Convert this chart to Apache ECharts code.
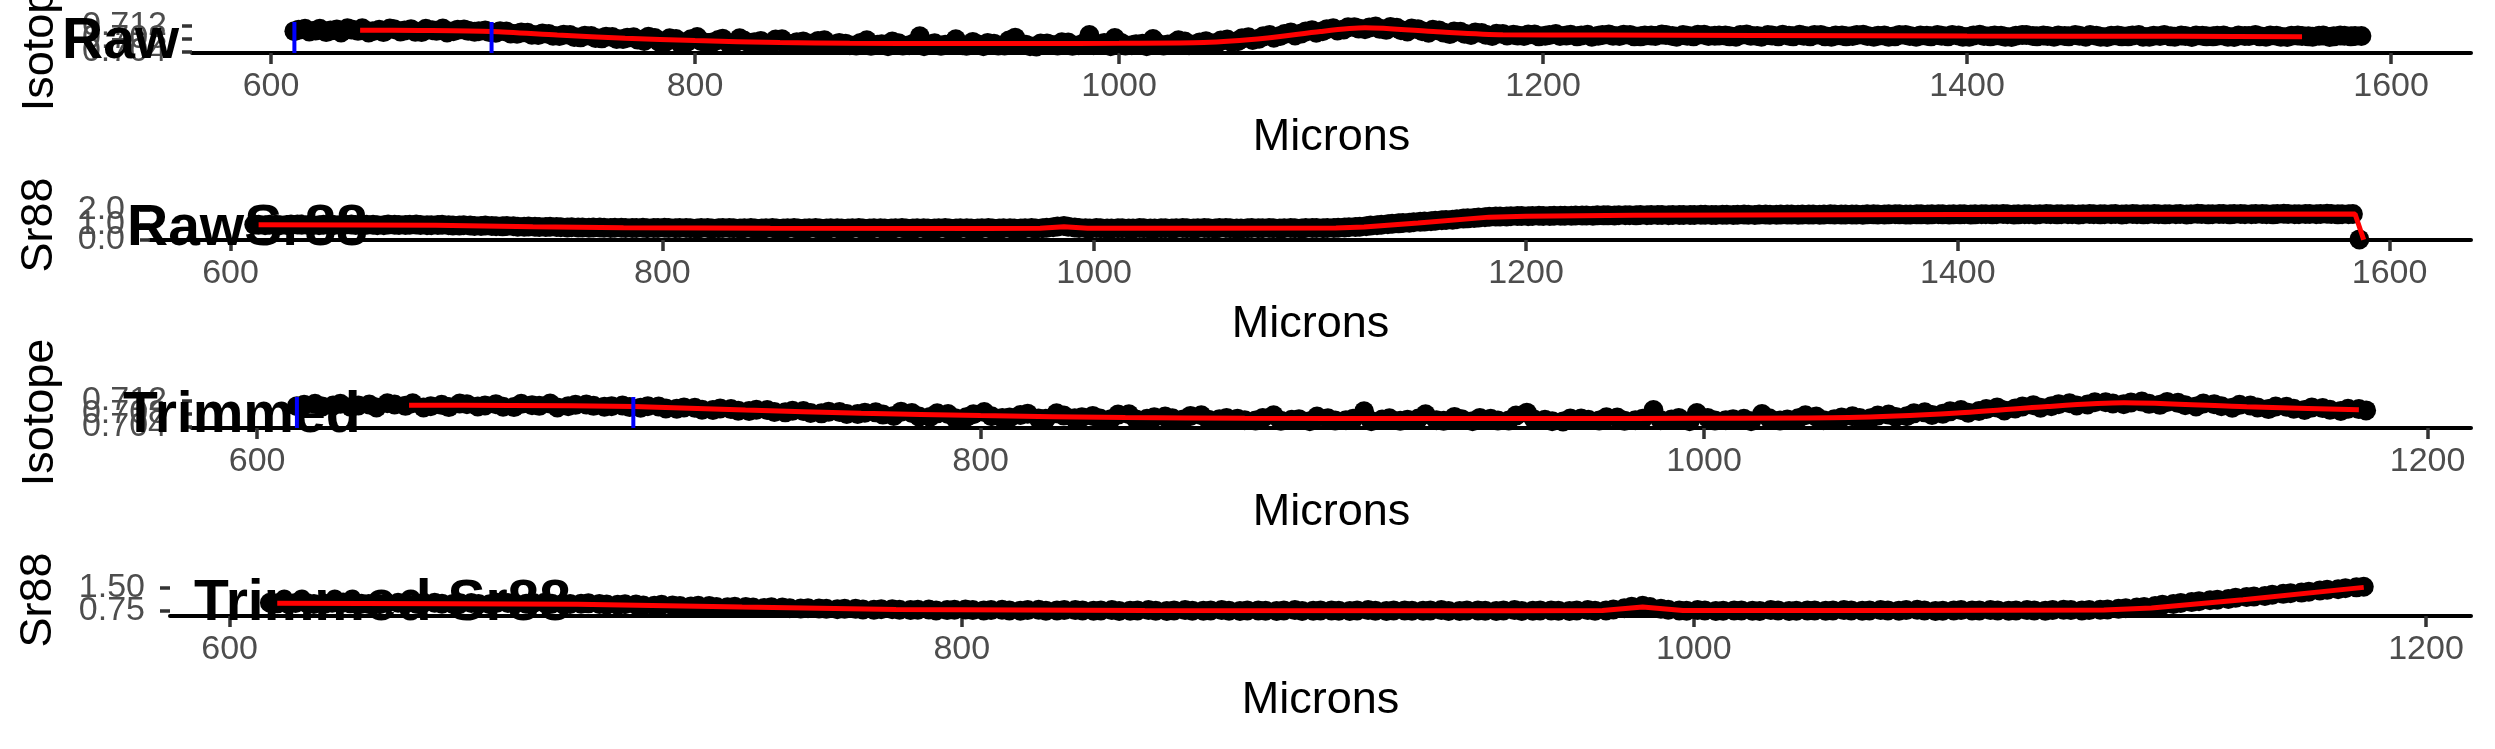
<!DOCTYPE html>
<html><head><meta charset="utf-8">
<script src="https://cdn.jsdelivr.net/npm/echarts@6/dist/echarts.min.js"></script>
<style>html,body{margin:0;padding:0;background:#fff}#c{width:2495px;height:749px}</style>
</head><body><div id="c"></div>
<script>
// ---------- data (two interleaved sample sets) ----------
const microns = [
611,616,621,626,631,636,641,646,651,656,661,666,671,676,681,686,691,696,701,706,
711,716,721,726,731,736,741,746,751,756,761,766,771,776,781,786,791,796,801,806,
811,816,821,826,831,836,841,846,851,856,861,866,871,876,881,886,891,896,901,906,
911,916,921,926,931,936,941,946,951,956,961,966,971,976,981,986,991,996,1001,1006,
1011,1016,1021,1026,1031,1036,1041,1046,1051,1056,1061,1066,1071,1076,1081,1086,1091,1096,1101,1106,
1111,1116,1121,1126,1131,1136,1141,1146,1151,1156,1161,1166,1171,1176,1181,1186,1191,1196,1201,1206,
1211,1216,1221,1226,1231,1236,1241,1246,1251,1256,1261,1266,1271,1276,1281,1286,1291,1296,1301,1306,
1311,1316,1321,1326,1331,1336,1341,1346,1351,1356,1361,1366,1371,1376,1381,1386,1391,1396,1401,1406,
1411,1416,1421,1426,1431,1436,1441,1446,1451,1456,1461,1466,1471,1476,1481,1486,1491,1496,1501,1506,
1511,1516,1521,1526,1531,1536,1541,1546,1551,1556,1561,1566,1571,1576,1581,1586];

const isotopeRaw = [
0.7104,0.7111,0.7106,0.7101,0.7109,0.7113,0.7105,0.7100,0.7108,0.7112,0.7103,0.7110,0.7101,0.7107,0.7112,0.7104,0.7109,0.7102,
0.7106,0.7099,0.7103,0.7096,0.7099,0.7092,0.7095,0.7089,0.7092,0.7085,0.7089,0.7082,0.7086,0.7080,
0.7085,0.7074,0.7083,0.7071,0.7080,0.7070,0.7086,0.7068,0.7077,0.7066,0.7082,0.7067,0.7074,0.7064,0.7079,0.7065,0.7072,0.7063,0.7076,0.7064,
0.7065,0.7060,0.7076,0.7062,0.7058,0.7067,0.7061,0.7088,0.7063,0.7059,0.7066,0.7061,0.7071,0.7058,0.7065,0.7060,0.7084,0.7062,0.7057,0.7066,
0.7060,0.7069,0.7061,0.7092,0.7063,0.7058,0.7068,0.7061,0.7065,0.7080,0.7060,0.7067,0.7072,0.7064,
0.7073,0.7067,0.7078,0.7073,0.7085,0.7081,0.7092,0.7089,0.7100,0.7097,0.7107,0.7104,0.7113,0.7109,0.7116,
0.7110,0.7118,0.7108,0.7114,0.7103,0.7110,0.7099,0.7106,0.7095,0.7102,0.7092,0.7098,0.7089,0.7095,
0.7093,0.7089,0.7094,0.7090,0.7095,0.7091,0.7088,0.7093,0.7090,0.7094,
0.7089,0.7092,0.7088,0.7091,0.7094,0.7089,0.7092,0.7088,0.7093,0.7090,
0.7091,0.7087,0.7094,0.7089,0.7092,0.7088,0.7090,0.7093,0.7088,0.7092,
0.7087,0.7091,0.7089,0.7093,0.7087,0.7091,0.7088,0.7092,0.7087,0.7090,
0.7092,0.7088,0.7091,0.7087,0.7093,0.7088,0.7090,0.7086,0.7092,0.7089,
0.7091,0.7087,0.7089,0.7092,0.7087,0.7090,0.7086,0.7091,0.7088,0.7092,
0.7087,0.7089,0.7088,0.7091,0.7086,0.7090,0.7088,0.7091,0.7086,0.7089,
0.7092,0.7087,0.7090,0.7086,0.7091,0.7088,0.7090,0.7086,0.7091,0.7088,
0.7089];

const sr88Raw = [
1.02,0.98,1.01,0.99,1.03,0.99,0.97,1.02,0.99,1.02,0.98,1.01,0.97,1.01,0.99,1.02,0.98,0.99,
0.98,0.95,0.96,0.92,0.93,0.90,0.91,0.87,0.88,0.85,0.86,0.83,0.83,0.81,
0.82,0.79,0.81,0.78,0.80,0.78,0.80,0.77,0.79,0.76,0.79,0.77,0.78,0.76,0.78,0.76,0.78,0.75,0.78,0.76,
0.78,0.75,0.77,0.75,0.78,0.76,0.77,0.75,0.78,0.75,0.77,0.76,0.78,0.75,0.77,0.75,0.78,0.76,0.77,0.75,
0.78,0.77,0.84,0.92,0.82,0.77,0.78,0.75,0.77,0.76,0.78,0.75,0.77,0.76,
0.78,0.76,0.78,0.76,0.79,0.75,0.77,0.77,0.78,0.76,0.78,0.76,0.79,0.77,0.79,
0.82,0.86,0.91,0.98,1.04,1.10,1.14,1.21,1.24,1.31,1.35,1.42,1.46,1.52,
1.56,1.57,1.59,1.58,1.61,1.60,1.62,1.61,1.63,1.62,
1.64,1.63,1.65,1.64,1.65,1.67,1.65,1.67,1.66,1.68,
1.66,1.68,1.67,1.69,1.67,1.69,1.68,1.70,1.68,1.69,
1.68,1.71,1.69,1.70,1.68,1.71,1.70,1.72,1.69,1.71,
1.70,1.72,1.70,1.71,1.69,1.72,1.71,1.73,1.70,1.72,
1.70,1.73,1.71,1.72,1.70,1.73,1.71,1.72,1.70,1.73,
1.71,1.73,1.71,1.72,1.70,1.74,1.71,1.73,1.71,1.73,
1.72,1.73,1.71,1.74,1.72,1.73,1.72,1.74,1.71,1.72,
0.02];

const micronsB = [
613,618,623,628,633,638,643,648,653,658,663,668,673,678,683,688,693,698,703,708,
713,718,723,728,733,738,743,748,753,758,763,768,773,778,783,788,793,798,803,808,
813,818,823,828,833,838,843,848,853,858,863,868,873,878,883,888,893,898,903,908,
913,918,923,928,933,938,943,948,953,958,963,968,973,978,983,988,993,998,1003,1008,
1013,1018,1023,1028,1033,1038,1043,1048,1053,1058,1063,1068,1073,1078,1083,1088,1093,1098,1103,1108,
1113,1118,1123,1128,1133,1138,1143,1148,1153,1158,1163,1168,1173,1178,1183,1188,1193,1198,1203,1208,
1213,1218,1223,1228,1233,1238,1243,1248,1253,1258,1263,1268,1273,1278,1283,1288,1293,1298,1303,1308,
1313,1318,1323,1328,1333,1338,1343,1348,1353,1358,1363,1368,1373,1378,1383,1388,1393,1398,1403,1408,
1413,1418,1423,1428,1433,1438,1443,1448,1453,1458,1463,1468,1473,1478,1483,1488,1493,1498,1503,1508,
1513,1518,1523,1528,1533,1538,1543,1548,1553,1558,1563,1568,1573,1578,1583];

const isotopeB = [
0.7108,0.7103,0.7111,0.7106,0.7100,0.7109,0.7113,0.7104,0.7101,0.7110,0.7106,0.7102,0.7111,0.7105,0.7100,0.7108,0.7105,0.7104,
0.7101,0.7104,0.7097,0.7100,0.7093,0.7097,0.7090,0.7093,0.7086,0.7090,0.7083,0.7087,0.7080,0.7084,
0.7078,0.7087,0.7072,0.7082,0.7067,0.7079,0.7073,0.7069,0.7081,0.7065,0.7075,0.7070,0.7066,0.7078,0.7063,0.7070,0.7067,0.7074,0.7062,0.7068,
0.7061,0.7068,0.7059,0.7064,0.7072,0.7060,0.7065,0.7058,0.7067,0.7062,0.7079,0.7059,0.7064,0.7068,0.7060,0.7075,0.7063,0.7058,0.7066,0.7062,
0.7070,0.7059,0.7065,0.7061,0.7068,0.7083,0.7060,0.7064,0.7058,0.7067,0.7063,0.7076,0.7061,0.7069,
0.7068,0.7075,0.7071,0.7082,0.7077,0.7088,0.7084,0.7095,0.7091,0.7103,0.7099,0.7110,0.7106,0.7116,0.7112,
0.7115,0.7111,0.7117,0.7107,0.7112,0.7104,0.7108,0.7100,0.7103,0.7096,0.7100,0.7093,0.7096,0.7091,
0.7091,0.7094,0.7088,0.7092,0.7089,0.7093,0.7091,0.7087,0.7092,0.7090,
0.7093,0.7088,0.7091,0.7089,0.7092,0.7087,0.7090,0.7093,0.7089,0.7091,
0.7088,0.7092,0.7090,0.7087,0.7091,0.7093,0.7088,0.7090,0.7092,0.7088,
0.7091,0.7088,0.7092,0.7089,0.7090,0.7087,0.7092,0.7089,0.7091,0.7088,
0.7090,0.7092,0.7087,0.7091,0.7089,0.7091,0.7087,0.7090,0.7092,0.7088,
0.7089,0.7091,0.7088,0.7090,0.7092,0.7087,0.7090,0.7088,0.7091,0.7087,
0.7090,0.7092,0.7087,0.7089,0.7091,0.7088,0.7090,0.7087,0.7091,0.7089,
0.7088,0.7091,0.7087,0.7090,0.7089,0.7087,0.7091,0.7088,0.7090,0.7089];

const sr88B = [
1.00,1.01,0.98,1.02,1.00,0.98,1.01,0.99,1.02,0.99,1.00,0.98,1.02,0.99,1.01,0.99,0.98,1.00,
0.96,0.97,0.93,0.95,0.91,0.92,0.88,0.89,0.86,0.87,0.84,0.84,0.82,0.82,
0.80,0.81,0.79,0.79,0.77,0.79,0.78,0.78,0.77,0.78,0.76,0.78,0.77,0.77,0.75,0.77,0.76,0.77,0.76,0.77,
0.76,0.77,0.76,0.77,0.75,0.77,0.76,0.77,0.76,0.77,0.76,0.77,0.75,0.77,0.76,0.77,0.75,0.77,0.76,0.77,
0.76,0.80,0.89,0.88,0.79,0.76,0.77,0.76,0.77,0.75,0.77,0.76,0.77,0.77,
0.77,0.77,0.77,0.78,0.77,0.76,0.78,0.77,0.77,0.77,0.77,0.78,0.78,0.78,0.80,
0.84,0.88,0.95,1.01,1.07,1.12,1.18,1.22,1.28,1.33,1.38,1.44,1.49,1.54,
1.56,1.58,1.59,1.60,1.60,1.62,1.62,1.63,1.63,1.64,
1.64,1.65,1.65,1.66,1.66,1.66,1.67,1.67,1.67,1.68,
1.67,1.68,1.68,1.68,1.69,1.68,1.69,1.69,1.69,1.70,
1.70,1.70,1.70,1.70,1.71,1.70,1.71,1.71,1.70,1.71,
1.71,1.71,1.71,1.72,1.71,1.72,1.72,1.72,1.71,1.72,
1.72,1.72,1.72,1.72,1.72,1.72,1.72,1.73,1.72,1.72,
1.72,1.72,1.72,1.73,1.72,1.73,1.72,1.73,1.73,1.72,
1.73,1.72,1.73,1.73,1.72,1.73,1.73,1.73,1.72,1.73];

const isoSmoothX = [642,670,704,735,767,800,840,873,920,960,1000,1040,1070,1095,1116,1150,1181,1227,1300,1400,1500,1558];
const isoSmoothY = [0.7107,0.7106,0.7103,0.7092,0.7082,0.7075,0.7069,0.7067,0.7066,0.7066,0.7067,0.7069,0.7083,0.7103,0.7114,0.7102,0.7093,0.7092,0.7091,0.7089,0.7088,0.7087];
const srSmoothX = [613,660,695,740,782,850,950,975,986,997,1050,1112,1125,1150,1183,1200,1250,1300,1400,1500,1584,1588];
const srSmoothY = [1.00,0.99,0.97,0.88,0.80,0.77,0.76,0.77,0.88,0.77,0.77,0.78,0.85,1.12,1.52,1.58,1.64,1.67,1.70,1.72,1.73,0.00];

const trimEnd = 1183;
const blueLines = [611, 704];

const xTicksRaw = [600,800,1000,1200,1400,1600];
const xTicksTrim = [600,800,1000,1200];
const isoTicks = [0.704,0.706,0.708,0.710,0.712];
const srRawTicks = [0,0.5,1,1.5,2];
const srTrimTicks = [0.75,1,1.25,1.5];

// ---------- layout ----------
const FONT = 'Liberation Sans';
const pairs = (xs, ys, maxX) => xs.map((x,i)=>[x, ys[i]]).filter(p => maxX == null || p[0] <= maxX);
const both = (ya, yb, maxX) => pairs(microns, ya, maxX).concat(pairs(micronsB, yb, maxX));

const panels = [
 {title:'Raw', tLeft:62, tTop:14, grid:{left:192,right:24,top:22,height:31}, xMin:562.7, xMax:1637.7, xTicks:xTicksRaw,
  yMin:0.7037, yMax:0.7132, yTicks:isoTicks, dec:3, yName:'Isotope', yGap:129,
  pts:both(isotopeRaw, isotopeB), sm:pairs(isoSmoothX, isoSmoothY), blue:true, smooth:0.25},
 {title:'RawSr88', tLeft:127, tTop:201, grid:{left:150,right:24,top:210,height:30}, xMin:562.7, xMax:1637.7, xTicks:xTicksRaw,
  yMin:-0.02, yMax:2.0, yTicks:srRawTicks, dec:1, yName:'Sr88', yGap:88,
  pts:both(sr88Raw, sr88B), sm:pairs(srSmoothX, srSmoothY), blue:false, smooth:false},
 {title:'Trimmed', tLeft:123, tTop:388, grid:{left:192,right:24,top:397,height:31}, xMin:582, xMax:1212, xTicks:xTicksTrim,
  yMin:0.7037, yMax:0.7132, yTicks:isoTicks, dec:3, yName:'Isotope', yGap:129,
  pts:both(isotopeRaw, isotopeB, trimEnd), sm:pairs(isoSmoothX, isoSmoothY, trimEnd), blue:true, smooth:0.25},
 {title:'Trimmed Sr88', tLeft:194, tTop:576, grid:{left:170,right:24,top:584,height:32}, xMin:583.7, xMax:1212.3, xTicks:xTicksTrim,
  yMin:0.587, yMax:1.63, yTicks:srTrimTicks, dec:2, yName:'Sr88', yGap:109,
  pts:both(sr88Raw, sr88B, trimEnd), sm:pairs(srSmoothX, srSmoothY, trimEnd), blue:false, smooth:false}
];

const option = {
  animation:false, backgroundColor:'#ffffff',
  title:[], grid:[], xAxis:[], yAxis:[], series:[]
};

panels.forEach((p,k)=>{
  option.title.push({text:p.title, left:p.tLeft, top:p.tTop, padding:0, z:1,
    textStyle:{fontFamily:FONT, fontWeight:'bold', fontSize:57, color:'#000'}});
  option.grid.push(Object.assign({containLabel:false, outerBoundsMode:'none'}, p.grid));
  option.xAxis.push({gridIndex:k, type:'value', min:p.xMin, max:p.xMax,
    name:'Microns', nameLocation:'middle', nameGap:62,
    nameTextStyle:{fontFamily:FONT, fontSize:45, color:'#000'},
    axisLine:{show:true, onZero:false, lineStyle:{color:'#000', width:4}},
    axisTick:{show:true, length:11, lineStyle:{color:'#333', width:3.5}, customValues:p.xTicks},
    axisLabel:{show:true, margin:17, fontFamily:FONT, fontSize:34, color:'#4D4D4D', customValues:p.xTicks,
      showMinLabel:true, showMaxLabel:true, formatter:(v)=>String(Math.round(v))},
    splitLine:{show:false}});
  option.yAxis.push({gridIndex:k, type:'value', min:p.yMin, max:p.yMax,
    name:p.yName, nameLocation:'middle', nameGap:p.yGap, nameRotate:90,
    nameTextStyle:{fontFamily:FONT, fontSize:45, color:'#000'},
    axisLine:{show:false},
    axisTick:{show:true, length:10, lineStyle:{color:'#333', width:3.5}, customValues:p.yTicks},
    axisLabel:{show:true, margin:25, fontFamily:FONT, fontSize:34, color:'#4D4D4D', customValues:p.yTicks,
      showMinLabel:true, showMaxLabel:true, hideOverlap:false,
      formatter:(v)=>Number(v).toFixed(p.dec)},
    splitLine:{show:false}});
  option.series.push({type:'scatter', xAxisIndex:k, yAxisIndex:k, data:p.pts, symbol:'circle', symbolSize:20,
    itemStyle:{color:'#000', opacity:1}, clip:true, z:3, silent:true, large:false});
  option.series.push({type:'line', xAxisIndex:k, yAxisIndex:k, data:p.sm, showSymbol:false, smooth:p.smooth,
    lineStyle:{color:'#FF0000', width:5}, clip:true, z:4, silent:true});
  if (p.blue) {
    blueLines.forEach(v=>{
      option.series.push({type:'line', xAxisIndex:k, yAxisIndex:k, data:[[v,p.yMin],[v,p.yMax]], showSymbol:false,
        lineStyle:{color:'#0000FF', width:4}, clip:true, z:5, silent:true});
    });
  }
});

const chart = echarts.init(document.getElementById('c'));
chart.setOption(option);
</script>
</body></html>
